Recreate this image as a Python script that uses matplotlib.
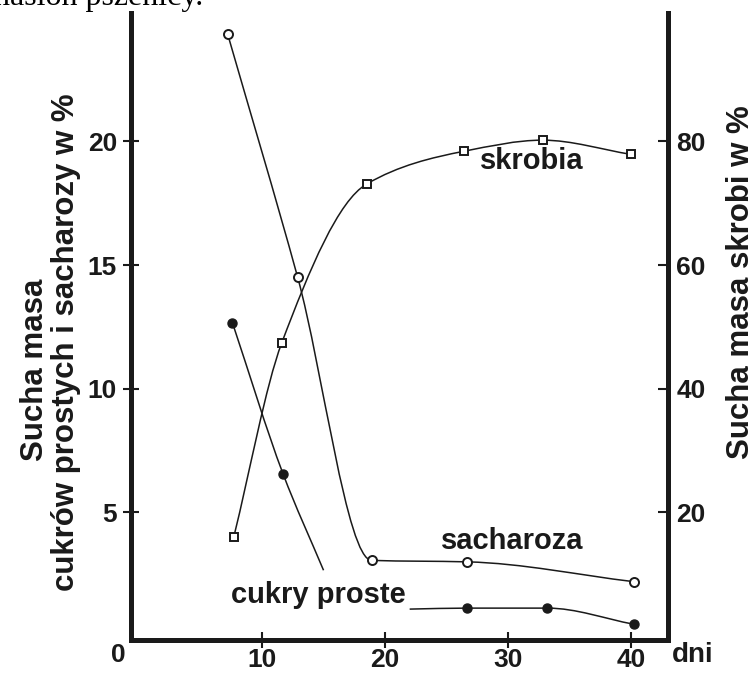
import numpy as np
import matplotlib
matplotlib.use("Agg")
import matplotlib.pyplot as plt
from matplotlib.path import Path
from matplotlib.patches import PathPatch

plt.rcParams['font.family'] = ['Liberation Sans', 'DejaVu Sans']

# dni po kwitnieniu
sach_x = [7.2, 12.9, 18.9, 26.7, 40.2]
sach_y = [24.35, 14.5, 3.06, 3.0, 2.2]          # sacharoza, % (lewa os)

cukry_x1 = [7.6, 11.7, 15.0]                    # cukry proste, pierwszy odcinek
cukry_y1 = [12.66, 6.57, 2.66]
cukry_x2 = [22.0, 26.7, 33.2, 40.2]             # drugi odcinek
cukry_y2 = [1.09, 1.13, 1.13, 0.48]

skr_x = [7.7, 11.6, 18.5, 26.4, 32.8, 40.0]
skr_y = [16.0, 47.4, 73.1, 78.4, 80.2, 77.9]    # skrobia, % (prawa os)

x_ticks = [10, 20, 30, 40]
left_ticks = [5, 10, 15, 20]
right_ticks = [20, 40, 60, 80]

ink = '#1a1a1a'


def smooth(ax, xs, ys, **kw):
    # gladka krzywa przez punkty (styczne jak w pchip, odcinki jako beziery)
    x = np.asarray(xs, float)
    y = np.asarray(ys, float)
    h = np.diff(x)
    d = np.diff(y) / h
    m = np.zeros_like(y)
    m[0], m[-1] = d[0], d[-1]
    for i in range(1, len(y) - 1):
        if d[i - 1] * d[i] > 0:
            w1 = 2 * h[i] + h[i - 1]
            w2 = h[i] + 2 * h[i - 1]
            m[i] = (w1 + w2) / (w1 / d[i - 1] + w2 / d[i])
    verts = [(x[0], y[0])]
    codes = [Path.MOVETO]
    for i in range(len(x) - 1):
        verts += [(x[i] + h[i] / 3, y[i] + m[i] * h[i] / 3),
                  (x[i + 1] - h[i] / 3, y[i + 1] - m[i + 1] * h[i] / 3),
                  (x[i + 1], y[i + 1])]
        codes += [Path.CURVE4] * 3
    ax.add_patch(PathPatch(Path(verts, codes), fill=False, transform=ax.transData, **kw))


fig = plt.figure(figsize=(7.55, 6.73), dpi=100)
ax = fig.add_axes([0.1735, 0.049, 0.7113, 0.932])
ax2 = ax.twinx()

ax.set_xlim(-0.65, 43)
ax.set_ylim(-0.16, 25.2)
ax2.set_ylim(-0.64, 100.8)

lw = 1.1
smooth(ax, sach_x, sach_y, color=ink, lw=lw, zorder=2)
smooth(ax, cukry_x1, cukry_y1, color=ink, lw=lw, zorder=2)
smooth(ax, cukry_x2, cukry_y2, color=ink, lw=lw, zorder=2)
smooth(ax2, skr_x, skr_y, color=ink, lw=lw, zorder=2)

ax.plot(sach_x, sach_y, 'o', ms=6.5, mfc='white', mec=ink, mew=1.4, zorder=3)
ax.plot(cukry_x1[:2], cukry_y1[:2], 'o', ms=6.5, mfc=ink, mec=ink, zorder=3)
ax.plot(cukry_x2[1:], cukry_y2[1:], 'o', ms=6.5, mfc=ink, mec=ink, zorder=3)
ax2.plot(skr_x, skr_y, 's', ms=6, mfc='white', mec=ink, mew=1.4, zorder=3)

# osie
for a in (ax, ax2):
    a.spines['top'].set_visible(False)
    for s in ('left', 'right', 'bottom'):
        a.spines[s].set_linewidth(3.6)
        a.spines[s].set_color(ink)
    a.patch.set_visible(False)

ax.set_xticks(x_ticks)
ax.set_yticks(left_ticks)
ax2.set_yticks(right_ticks)
ax.tick_params(axis='x', direction='inout', length=12, width=1.5, pad=0,
               labelsize=19, colors=ink)
ax.tick_params(axis='y', direction='inout', length=12, width=1.5, pad=4,
               labelsize=19, colors=ink)
ax2.tick_params(axis='y', direction='in', length=7, width=1.5, pad=6,
                labelsize=19, colors=ink)
for lab in ax.get_xticklabels() + ax.get_yticklabels() + ax2.get_yticklabels():
    lab.set_fontweight('bold')

# napisy
tk = dict(fontsize=21, fontweight='bold', color=ink, ha='center', va='center')
ax.text(31.95, 19.2, 'skrobia', **tk)
ax.text(30.3, 3.83, 'sacharoza', **tk)
ax.text(14.6, 1.65, 'cukry proste', **tk)

fig.text(118 / 755, 1 - 655 / 673, '0', fontsize=19, fontweight='bold',
         color=ink, ha='center', va='center')
fig.text(693 / 755, 1 - 655 / 673, 'dni', fontsize=20, fontweight='bold',
         color=ink, ha='center', va='center')

lab = dict(rotation=90, fontsize=22.5, fontweight='bold', color=ink,
           ha='center', va='center')
fig.text(35 / 755, 1 - 370 / 673, 'Sucha masa', **lab)
fig.text(66 / 755, 1 - 342 / 673, 'cukrów prostych i sacharozy w %', **lab)
fig.text(741 / 755, 1 - 282 / 673, 'Sucha masa skrobi w %', **lab)

# urwany tekst z gornej krawedzi skanu
fig.text(-0.008, 1 - 5 / 673, 'nasion pszenicy.', family='Liberation Serif',
         fontsize=23, color='black', ha='left', va='baseline')

fig.savefig('out.png', dpi=100)
